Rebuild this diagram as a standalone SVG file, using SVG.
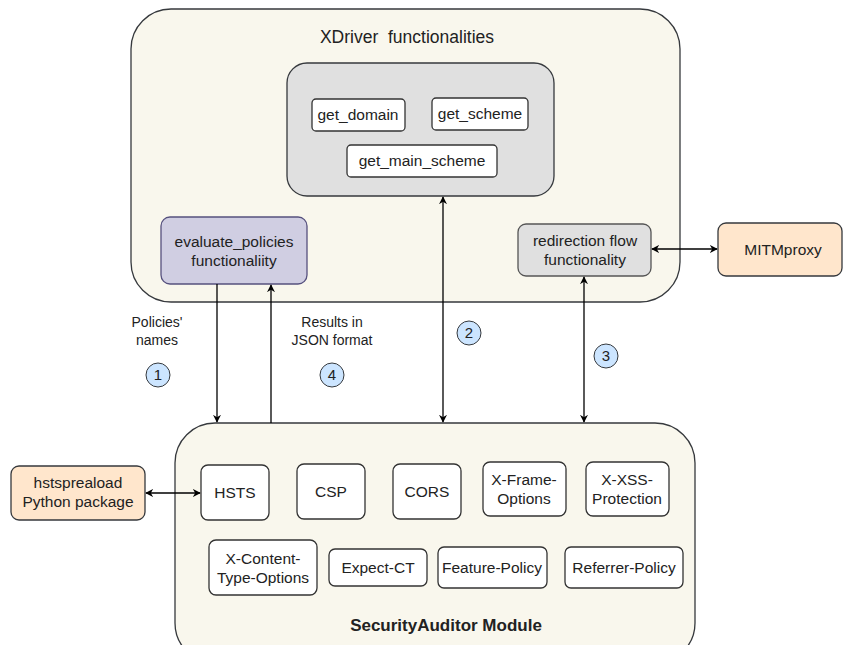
<svg xmlns="http://www.w3.org/2000/svg" width="843" height="645" viewBox="0 0 843 645">
<defs>
<marker id="ah" viewBox="0 0 10 10" refX="9" refY="5" markerWidth="8" markerHeight="8" orient="auto-start-reverse" markerUnits="userSpaceOnUse">
<path d="M0,0 L10,5 L0,10 L3,5 Z" fill="#000"/>
</marker>
</defs>
<style>
text{font-family:"Liberation Sans",Arial,sans-serif;fill:#222;text-anchor:middle}
.cont{fill:#f9f7ed;stroke:#36393d;stroke-width:1.3}
.wbox{fill:#fff;stroke:#333;stroke-width:1.3}
.lbl{font-size:15.5px}
.num{fill:#cce5ff;stroke:#36393d;stroke-width:1}
.conn{stroke:#000;stroke-width:1.3;fill:none}
</style>
<rect width="843" height="645" fill="#fff"/>
<g id="xdriver">
<rect class="cont" x="131" y="9" width="549" height="293" rx="40"/>
<text x="407" y="43" font-size="17.5" xml:space="preserve" style="white-space:pre">XDriver  functionalities</text>
</g>
<g id="getters">
<rect x="287" y="63" width="267" height="133" rx="20" fill="#e0e0e0" stroke="#36393d" stroke-width="1.3"/>
</g>
<g id="get_domain"><rect class="wbox" x="312" y="99" width="93" height="32" rx="4"/><text class="lbl" x="358" y="120">get_domain</text></g>
<g id="get_scheme"><rect class="wbox" x="432" y="98" width="96" height="32" rx="4"/><text class="lbl" x="480" y="119">get_scheme</text></g>
<g id="get_main_scheme"><rect class="wbox" x="347" y="145" width="150" height="32" rx="4"/><text class="lbl" x="422" y="166">get_main_scheme</text></g>
<g id="evaluate"><rect x="161" y="217" width="146" height="67" rx="9" fill="#d0cee2" stroke="#56517e" stroke-width="1.3"/><text class="lbl" x="234" y="247">evaluate_policies</text><text class="lbl" x="234" y="266">functionaliity</text></g>
<g id="redirection"><rect x="518" y="224" width="133" height="52" rx="8" fill="#e0e0e0" stroke="#555" stroke-width="1.3"/><text class="lbl" x="585" y="246">redirection flow</text><text class="lbl" x="585" y="265">functionality</text></g>
<g id="mitmproxy"><rect x="718" y="223" width="124" height="53" rx="8" fill="#ffe6cc" stroke="#36393d" stroke-width="1.3"/><text class="lbl" x="783" y="255">MITMproxy</text></g>
<g id="securityauditor">
<rect class="cont" x="175" y="423" width="520" height="240" rx="40"/>
<text x="446" y="631" font-size="17" font-weight="bold">SecurityAuditor Module</text>
</g>
<g id="hsts"><rect class="wbox" x="201" y="465" width="68" height="55" rx="7"/><text class="lbl" x="235" y="498">HSTS</text></g>
<g id="csp"><rect class="wbox" x="297" y="464" width="68" height="55" rx="7"/><text class="lbl" x="331" y="497">CSP</text></g>
<g id="cors"><rect class="wbox" x="393" y="464" width="68" height="55" rx="7"/><text class="lbl" x="427" y="497">CORS</text></g>
<g id="xframe"><rect class="wbox" x="483" y="462" width="83" height="54" rx="7"/><text class="lbl" x="524" y="485">X-Frame-</text><text class="lbl" x="524" y="504">Options</text></g>
<g id="xxss"><rect class="wbox" x="586" y="462" width="83" height="54" rx="7"/><text class="lbl" x="627" y="485">X-XSS-</text><text class="lbl" x="627" y="504">Protection</text></g>
<g id="xcto"><rect class="wbox" x="209" y="540" width="108" height="55" rx="7"/><text class="lbl" x="263" y="564">X-Content-</text><text class="lbl" x="263" y="583">Type-Options</text></g>
<g id="expectct"><rect class="wbox" x="329" y="549" width="98" height="37" rx="6"/><text class="lbl" x="378" y="573">Expect-CT</text></g>
<g id="featurepolicy"><rect class="wbox" x="438" y="547" width="109" height="41" rx="6"/><text class="lbl" x="492" y="573">Feature-Policy</text></g>
<g id="referrerpolicy"><rect class="wbox" x="565" y="547" width="118" height="41" rx="6"/><text class="lbl" x="624" y="573">Referrer-Policy</text></g>
<g id="hstspreload"><rect x="11" y="466" width="134" height="54" rx="8" fill="#ffe6cc" stroke="#36393d" stroke-width="1.3"/><text class="lbl" x="78" y="488">hstspreaload</text><text class="lbl" x="78" y="507">Python package</text></g>
<g id="connectors">
<line class="conn" x1="217" y1="284" x2="217" y2="422" marker-end="url(#ah)"/>
<line class="conn" x1="271" y1="423" x2="271" y2="285" marker-end="url(#ah)"/>
<line class="conn" x1="443" y1="197" x2="443" y2="422" marker-start="url(#ah)" marker-end="url(#ah)"/>
<line class="conn" x1="584" y1="277" x2="584" y2="422" marker-start="url(#ah)" marker-end="url(#ah)"/>
<line class="conn" x1="652" y1="249" x2="717" y2="249" marker-start="url(#ah)" marker-end="url(#ah)"/>
<line class="conn" x1="146" y1="493" x2="200" y2="493" marker-start="url(#ah)" marker-end="url(#ah)"/>
<text font-size="14" x="157" y="327">Policies'</text>
<text font-size="14" x="157" y="345">names</text>
<text font-size="14" x="332" y="327">Results in</text>
<text font-size="14" x="332" y="345">JSON format</text>
<circle class="num" cx="158" cy="375" r="12"/><text font-size="15" x="158" y="380">1</text>
<circle class="num" cx="332" cy="375" r="12"/><text font-size="15" x="332" y="380">4</text>
<circle class="num" cx="469" cy="333" r="12"/><text font-size="15" x="469" y="338">2</text>
<circle class="num" cx="606" cy="356" r="12"/><text font-size="15" x="606" y="361">3</text>
</g>
</svg>
